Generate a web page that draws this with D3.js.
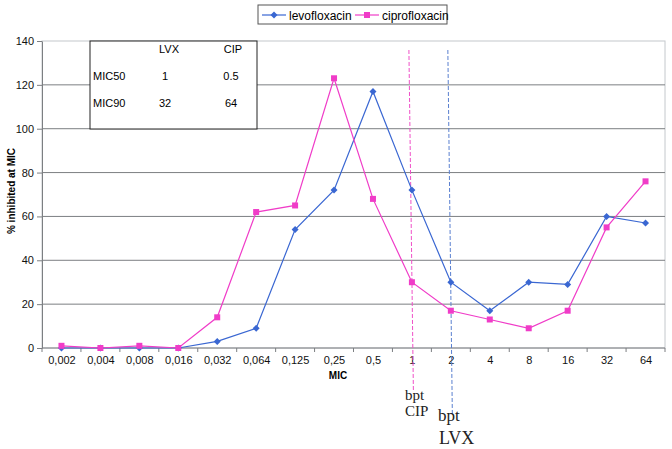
<!DOCTYPE html>
<html>
<head>
<meta charset="utf-8">
<script src="https://d3js.org/d3.v7.min.js"></script>
<style>
    body { margin: 0; background: #fff; }
    text { font-family: "Liberation Sans", Arial, sans-serif; }
    .serif { font-family: "Liberation Serif", "Times New Roman", serif; fill: #222; }
</style>
</head>
<body>
<svg width="672" height="449"></svg>
<script>

    // chart data
    var categories = ["0,002", "0,004", "0,008", "0,016", "0,032", "0,064", "0,125", "0,25",
                      "0,5", "1", "2", "4", "8", "16", "32", "64"];
    var levofloxacin = [0, 0, 0, 0, 3, 9, 54, 72, 117, 72, 30, 17, 30, 29, 60, 57];
    var ciprofloxacin = [1, 0, 1, 0, 14, 62, 65, 123, 68, 30, 17, 13, 9, 17, 55, 76];
    var yTicks = [0, 20, 40, 60, 80, 100, 120, 140];

    // inset table
    var tableHead = ["", "LVX", "CIP"];
    var tableRows = [["MIC50", "1", "0.5"], ["MIC90", "32", "64"]];

    // breakpoints
    var breakpoints = [{ name: "CIP", at: "1", color: "#f050c8" },
                       { name: "LVX", at: "2", color: "#5a80d0" }];

    var svg = d3.select("svg");
    var plotL = 42, plotR = 665, plotT = 41, plotB = 348;

    var x = d3.scalePoint().domain(categories).range([plotL, plotR]).padding(0.5);
    var y = d3.scaleLinear().domain([0, 140]).range([plotB, plotT]);
    var step = x.step();

    // plot border
    svg.append("rect")
        .attr("x", plotL).attr("y", plotT)
        .attr("width", plotR - plotL).attr("height", plotB - plotT)
        .attr("fill", "none").attr("stroke", "#c4c8cc");

    // gridlines
    svg.append("g").selectAll("line")
        .data(yTicks.slice(1, -1))
        .enter().append("line")
        .attr("x1", plotL).attr("x2", plotR)
        .attr("y1", function(d) { return y(d); })
        .attr("y2", function(d) { return y(d); })
        .attr("stroke", "#7c7f82").attr("stroke-width", 1);

    // y axis
    var yAxis = svg.append("g")
        .attr("transform", "translate(" + plotL + ",0)")
        .call(d3.axisLeft(y).tickValues(yTicks).tickSize(5).tickSizeOuter(0));
    yAxis.select(".domain").attr("stroke", "#7c7f82");
    yAxis.selectAll(".tick line").attr("stroke", "#7c7f82");
    yAxis.selectAll(".tick text").attr("font-size", 11).attr("fill", "#111").attr("x", -8);

    // x axis
    var xAxis = svg.append("g")
        .attr("transform", "translate(0," + plotB + ")")
        .call(d3.axisBottom(x).tickSize(0).tickSizeOuter(0));
    xAxis.select(".domain").attr("stroke", "#7c7f82").attr("d", "M" + plotL + ",0H" + plotR);
    xAxis.selectAll(".tick text").attr("font-size", 11).attr("fill", "#111").attr("dy", "1.2em");
    xAxis.selectAll(".sep")
        .data(d3.range(categories.length + 1))
        .enter().append("line")
        .attr("x1", function(i) { return plotL + i * step; })
        .attr("x2", function(i) { return plotL + i * step; })
        .attr("y1", 0).attr("y2", 4)
        .attr("stroke", "#7c7f82");

    // axis titles
    svg.append("text")
        .attr("x", 338).attr("y", 379)
        .attr("text-anchor", "middle")
        .attr("font-size", 10).attr("font-weight", "bold")
        .text("MIC");

    svg.append("text")
        .attr("transform", "translate(15,191) rotate(-90)")
        .attr("text-anchor", "middle")
        .attr("font-size", 10).attr("font-weight", "bold")
        .text("% inhibited at MIC");

    // breakpoint dashed lines and labels
    var bpBottoms = [392, 415];
    breakpoints.forEach(function(b, i) {
        var cx = x(b.at);
        svg.append("line")
            .attr("x1", cx - 3).attr("y1", 50)
            .attr("x2", cx + 1.5).attr("y2", bpBottoms[i])
            .attr("stroke", b.color).attr("stroke-width", 1)
            .attr("stroke-dasharray", "4,2");
    });
    svg.append("text").attr("class", "serif").attr("x", 405).attr("y", 400)
        .attr("font-size", 15).text("bpt");
    svg.append("text").attr("class", "serif").attr("x", 405).attr("y", 416)
        .attr("font-size", 15).text("CIP");
    svg.append("text").attr("class", "serif").attr("x", 438).attr("y", 421)
        .attr("font-size", 17).text("bpt");
    svg.append("text").attr("class", "serif").attr("x", 439).attr("y", 444)
        .attr("font-size", 18).text("LVX");

    // series
    var series = [
        { name: "levofloxacin", values: levofloxacin, color: "#3a67d2", marker: "diamond" },
        { name: "ciprofloxacin", values: ciprofloxacin, color: "#f03cc8", marker: "square" }
    ];

    var line = d3.line()
        .x(function(d, i) { return x(categories[i]); })
        .y(function(d) { return y(d); });

    function marker(g, type, color) {
        if (type === "diamond") {
            g.append("path").attr("d", "M0,-3.5L3.5,0L0,3.5L-3.5,0Z").attr("fill", color);
        } else {
            g.append("rect").attr("x", -3).attr("y", -3).attr("width", 6).attr("height", 6).attr("fill", color);
        }
    }

    series.forEach(function(s) {
        svg.append("path")
            .datum(s.values)
            .attr("d", line)
            .attr("fill", "none")
            .attr("stroke", s.color).attr("stroke-width", 1.2);
        svg.append("g").selectAll("g")
            .data(s.values)
            .enter().append("g")
            .attr("transform", function(d, i) { return "translate(" + x(categories[i]) + "," + y(d) + ")"; })
            .each(function() { marker(d3.select(this), s.marker, s.color); });
    });

    // inset table
    var tbl = svg.append("g");
    tbl.append("rect")
        .attr("x", 90).attr("y", 41).attr("width", 167).attr("height", 88)
        .attr("fill", "#fff").attr("stroke", "#222").attr("stroke-width", 1);
    var colX = [93, 169, 233];
    tableHead.forEach(function(h, j) {
        if (!h) return;
        tbl.append("text").attr("x", colX[j]).attr("y", 53)
            .attr("text-anchor", "middle").attr("font-size", 11).text(h);
    });
    tableRows.forEach(function(r, i) {
        r.forEach(function(c, j) {
            tbl.append("text")
                .attr("x", j === 0 ? colX[0] : colX[j] - (j === 1 ? 4 : 2))
                .attr("y", 80 + i * 27)
                .attr("text-anchor", j === 0 ? "start" : "middle")
                .attr("font-size", 11).text(c);
        });
    });

    // legend
    var lg = svg.append("g");
    lg.append("rect")
        .attr("x", 258).attr("y", 5).attr("width", 189).attr("height", 19)
        .attr("fill", "#fff").attr("stroke", "#555");
    var legX = [262, 355];
    series.forEach(function(s, i) {
        var g = lg.append("g").attr("transform", "translate(" + legX[i] + ",15)");
        g.append("line").attr("x1", 0).attr("x2", 24).attr("stroke", s.color).attr("stroke-width", 1.2);
        marker(g.append("g").attr("transform", "translate(12,0)"), s.marker, s.color);
        g.append("text").attr("x", 27).attr("y", 4.5).attr("font-size", 12).text(s.name);
    });
</script>
</body>
</html>
